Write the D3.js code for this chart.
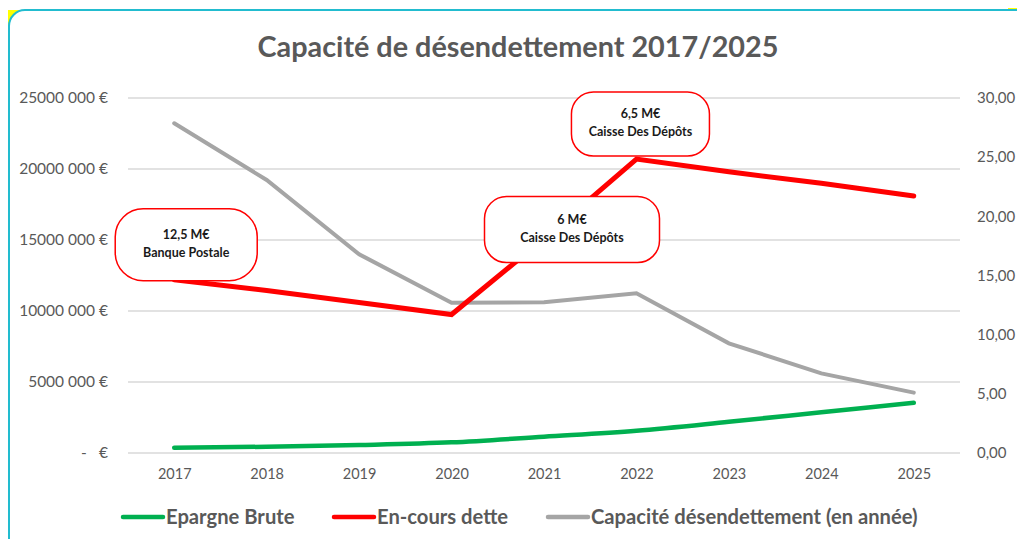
<!DOCTYPE html>
<html>
<head>
<meta charset="utf-8">
<script src="https://cdn.jsdelivr.net/npm/d3@7"></script>
<style>
  body { margin: 0; background: #fff; }
  svg { display: block; font-family: Lato, "Open Sans", sans-serif; }
</style>
</head>
<body>
<div id="chart"></div>
<script>
// Données
var years = [2017, 2018, 2019, 2020, 2021, 2022, 2023, 2024, 2025];
var epargneBrute = [370000, 440000, 560000, 750000, 1150000, 1570000, 2200000, 2870000, 3540000];
var encoursDette = [12200000, 11450000, 10600000, 9750000, 15100000, 20700000, 19800000, 19000000, 18100000];
var capacite = [27.86, 23.07, 16.8, 12.7, 12.74, 13.5, 9.27, 6.73, 5.1];

var leftTicks = [0, 5000000, 10000000, 15000000, 20000000, 25000000];
var rightTicks = [0, 5, 10, 15, 20, 25, 30];

var seriesNames = ["Epargne Brute", "En-cours dette", "Capacité désendettement (en année)"];

// annotations (montant, prêteur, année d'ancrage)
var annotAmounts = ["12,5 M€", "6 M€", "6,5 M€"];
var annotLenders = ["Banque Postale", "Caisse Des Dépôts", "Caisse Des Dépôts"];
var annotYears = [2017, 2021, 2022];

var width = 1017, height = 539;
var grey = "#595959";

var svg = d3.select("#chart").append("svg")
    .attr("width", width)
    .attr("height", height);

// cadre
svg.append("rect").attr("x", 8).attr("y", 10).attr("width", 18).attr("height", 16).attr("fill", "#ffff00");
svg.append("rect").attr("x", 1008).attr("y", 8).attr("width", 9).attr("height", 4).attr("fill", "#ffff00");
svg.append("rect")
    .attr("x", 9).attr("y", 10)
    .attr("width", 1040).attr("height", 560)
    .attr("rx", 16)
    .attr("fill", "#fff")
    .attr("stroke", "#22bccf")
    .attr("stroke-width", 2);

// titre
svg.append("text")
    .attr("x", 518).attr("y", 57)
    .attr("text-anchor", "middle")
    .attr("fill", grey)
    .style("font-size", "28.8px")
    .style("font-weight", "bold")
    .text("Capacité de désendettement 2017/2025");

// échelles
var x = d3.scalePoint().domain(years).range([128, 960]).padding(0.5);
var yLeft = d3.scaleLinear().domain([0, 25000000]).range([453, 98]);
var yRight = d3.scaleLinear().domain([0, 30]).range([453, 98]);

// grille
svg.append("g").selectAll("line")
    .data(leftTicks)
    .enter().append("line")
    .attr("x1", 128).attr("x2", 960)
    .attr("y1", d => yLeft(d)).attr("y2", d => yLeft(d))
    .attr("stroke", "#d9d9d9")
    .attr("stroke-width", 1.3);

function fmtEuro(d) {
    if (d === 0) return "";
    var s = String(d);
    return s.slice(0, s.length - 3) + " " + s.slice(-3) + " €";
}

// axe gauche
var axisLeft = d3.axisLeft(yLeft).tickValues(leftTicks).tickSize(0).tickPadding(20).tickFormat(fmtEuro);
var gl = svg.append("g").attr("transform", "translate(128,0)").call(axisLeft);
gl.select(".domain").remove();
gl.selectAll("text").attr("fill", grey).style("font-size", "15.5px").style("font-family", "Lato, sans-serif");
// zéro au format comptable
svg.append("text").attr("x", 84).attr("y", yLeft(0) + 5).attr("text-anchor", "middle")
    .attr("fill", grey).style("font-size", "15.5px").text("-");
svg.append("text").attr("x", 108).attr("y", yLeft(0) + 5).attr("text-anchor", "end")
    .attr("fill", grey).style("font-size", "15.5px").text("€");

// axe droit
var axisRight = d3.axisRight(yRight).tickValues(rightTicks).tickSize(0).tickPadding(17)
    .tickFormat(d => d3.format(".2f")(d).replace(".", ","));
var gr = svg.append("g").attr("transform", "translate(960,0)").call(axisRight);
gr.select(".domain").remove();
gr.selectAll("text").attr("fill", grey).style("font-size", "15px").style("font-family", "Lato, sans-serif");

// axe x
var axisX = d3.axisBottom(x).tickSize(0).tickPadding(16);
var gx = svg.append("g").attr("transform", "translate(0,453)").call(axisX);
gx.select(".domain").remove();
gx.selectAll("text").attr("fill", grey).style("font-size", "14.5px").style("font-family", "Lato, sans-serif");

// courbes
var lineLeft = d3.line().x((d, i) => x(years[i])).y(d => yLeft(d));
var lineRight = d3.line().x((d, i) => x(years[i])).y(d => yRight(d));

svg.append("path").datum(capacite)
    .attr("d", lineRight)
    .attr("fill", "none").attr("stroke", "#a5a5a5").attr("stroke-width", 4).attr("stroke-linecap", "round");

svg.append("path").datum(encoursDette)
    .attr("d", lineLeft)
    .attr("fill", "none").attr("stroke", "#ff0000").attr("stroke-width", 5).attr("stroke-linecap", "round");

svg.append("path").datum(epargneBrute)
    .attr("d", lineLeft.curve(d3.curveMonotoneX))
    .attr("fill", "none").attr("stroke", "#00b050").attr("stroke-width", 4.5).attr("stroke-linecap", "round");

// bulles d'annotation : décalage par rapport au point d'ancrage, taille, rayon
var bubbleLayout = [
    {dx: 12, dy: -35, w: 142, h: 72, r: 28},
    {dx: 28, dy: -9, w: 175, h: 66, r: 22},
    {dx: 4, dy: -35, w: 138, h: 64, r: 22}
];

var bubbles = svg.append("g").selectAll("g")
    .data(annotYears)
    .enter().append("g")
    .attr("transform", (d, i) => {
        var cx = x(d) + bubbleLayout[i].dx;
        var cy = yLeft(encoursDette[years.indexOf(d)]) + bubbleLayout[i].dy;
        return "translate(" + cx + "," + cy + ")";
    });

bubbles.append("rect")
    .attr("x", (d, i) => -bubbleLayout[i].w / 2)
    .attr("y", (d, i) => -bubbleLayout[i].h / 2)
    .attr("width", (d, i) => bubbleLayout[i].w)
    .attr("height", (d, i) => bubbleLayout[i].h)
    .attr("rx", (d, i) => bubbleLayout[i].r)
    .attr("fill", "#fff")
    .attr("stroke", "#ff0000")
    .attr("stroke-width", 1.5);

bubbles.append("text")
    .attr("y", -6)
    .attr("text-anchor", "middle")
    .style("font-size", "12.5px").style("font-weight", "bold")
    .attr("fill", "#1a1a1a")
    .text((d, i) => annotAmounts[i]);

bubbles.append("text")
    .attr("y", 12)
    .attr("text-anchor", "middle")
    .style("font-size", "12.5px").style("font-weight", "bold")
    .attr("fill", "#1a1a1a")
    .text((d, i) => annotLenders[i]);

// légende
var legendColors = ["#00b050", "#ff0000", "#a5a5a5"];
var legendX = [123, 334, 548];
var legend = svg.append("g").selectAll("g")
    .data(seriesNames)
    .enter().append("g")
    .attr("transform", (d, i) => "translate(" + legendX[i] + ",517)");

legend.append("line")
    .attr("x1", 0).attr("x2", 40)
    .attr("stroke", (d, i) => legendColors[i])
    .attr("stroke-width", 4.5)
    .attr("stroke-linecap", "round");

legend.append("text")
    .attr("x", 43).attr("y", 7)
    .attr("fill", grey)
    .style("font-size", "20.2px").style("font-weight", "bold")
    .text(d => d);
</script>
</body>
</html>
